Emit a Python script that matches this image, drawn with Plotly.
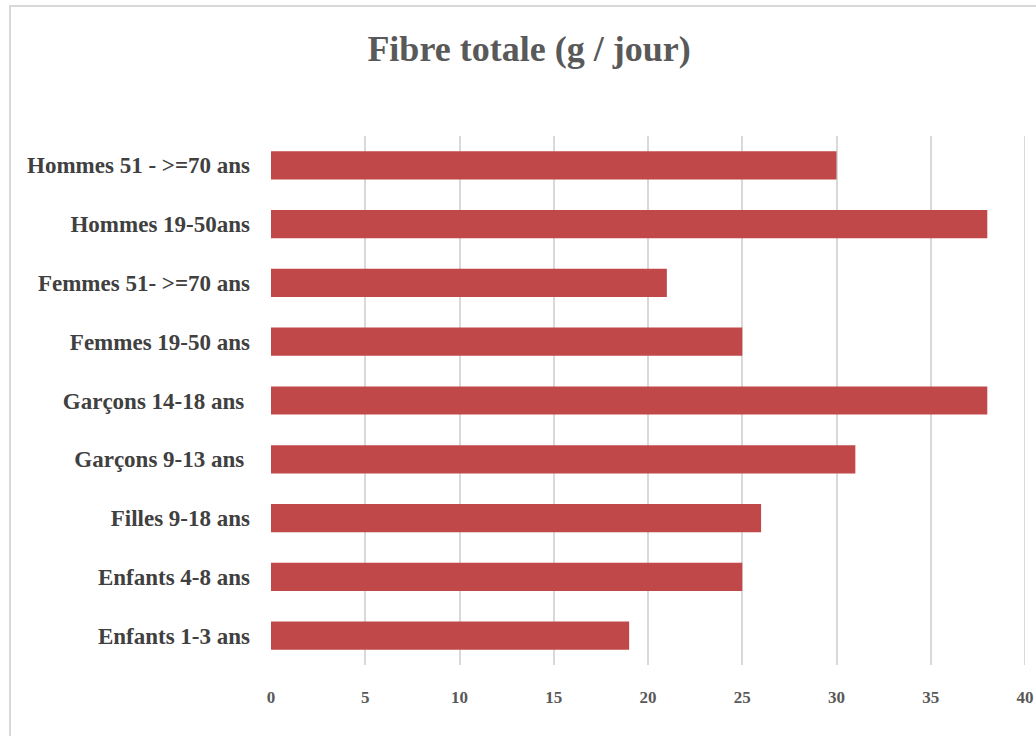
import plotly.graph_objects as go

categories = [
    "Enfants 1-3 ans",
    "Enfants 4-8 ans",
    "Filles 9-18 ans",
    "Garçons 9-13 ans ",
    "Garçons 14-18 ans ",
    "Femmes 19-50 ans",
    "Femmes 51- >=70 ans",
    "Hommes 19-50ans",
    "Hommes 51 - >=70 ans",
]
values = [19, 25, 26, 31, 38, 25, 21, 38, 30]
x_ticks = [0, 5, 10, 15, 20, 25, 30, 35, 40]

W, H = 1036, 736
L, R, T, B = 271, 11, 136, 71
pw, ph = W - L - R, H - T - B

fig = go.Figure()
fig.add_trace(go.Bar(
    x=values, y=categories, orientation="h",
    marker=dict(color="#c04848", line=dict(width=0)),
    hoverinfo="x+y",
))

font_family = "Liberation Serif, Times New Roman, serif"

fig.update_layout(
    width=W, height=H,
    margin=dict(l=L, r=R, t=T, b=B, autoexpand=False),
    paper_bgcolor="white", plot_bgcolor="white",
    bargap=0.52,
    showlegend=False,
    title=dict(
        text="Fibre totale (g / jour)",
        x=529 / W, xref="container", xanchor="center",
        y=1 - 48 / H, yref="container", yanchor="middle",
        font=dict(family=font_family, size=36, color="#595959", weight="bold"),
    ),
    xaxis=dict(
        range=[x_ticks[0], x_ticks[-1]], tickvals=x_ticks,
        showgrid=True, gridcolor="#d9d9d9", gridwidth=2,
        zeroline=False, showline=False, automargin=False,
        tickfont=dict(family=font_family, size=17, color="#595959", weight="bold"),
        ticks="", ticklabelstandoff=20, ticklabeloverflow="allow",
    ),
    yaxis=dict(
        showgrid=False, zeroline=False, showline=False, automargin=False,
        tickfont=dict(family=font_family, size=23, color="#404040", weight="bold"),
        ticks="", ticklabelstandoff=20,
    ),
    shapes=[
        dict(
            type="rect", xref="paper", yref="paper",
            x0=(10 - L) / pw, x1=(W + 20 - L) / pw,
            y0=-(B + 20) / ph, y1=1 + (T - 6) / ph,
            line=dict(color="#d9d9d9", width=2), fillcolor="rgba(0,0,0,0)",
            layer="below",
        ),
        dict(
            type="line", xref="x", yref="paper",
            x0=x_ticks[-1], x1=x_ticks[-1], y0=0, y1=1,
            line=dict(color="#d9d9d9", width=2), layer="below",
        ),
    ],
)

fig.write_html(
    "out.html",
    config={"displayModeBar": False},
    post_script="document.body.style.margin='0';document.body.style.overflow='hidden';",
)
